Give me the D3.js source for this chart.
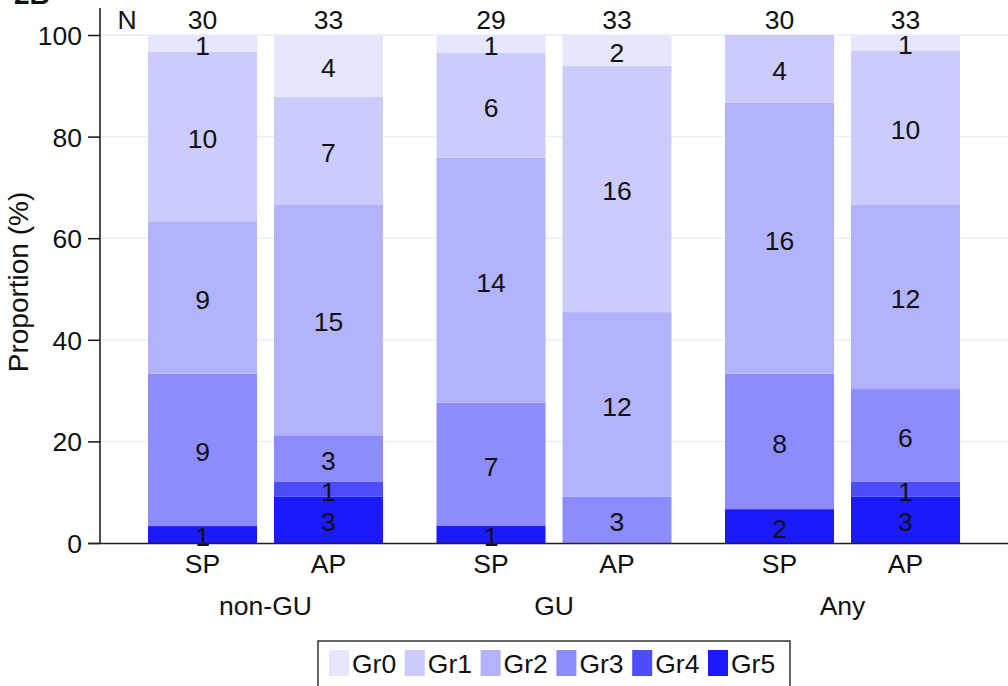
<!DOCTYPE html>
<html>
<head>
<meta charset="utf-8">
<script src="https://cdn.jsdelivr.net/npm/d3@7"></script>
<style>
  html, body { margin: 0; padding: 0; background: #fff; }
  svg { display: block; }
  text { font-family: "Liberation Sans", Arial, Helvetica, sans-serif; fill: #111; }
</style>
</head>
<body>
<svg id="chart" width="1008" height="686"></svg>
<script>
// ---- data ----
const groups = ["non-GU", "GU", "Any"];
const types = ["SP", "AP"];
const grades = ["Gr0", "Gr1", "Gr2", "Gr3", "Gr4", "Gr5"];
const colors = ["#e6e6fc", "#ccccfc", "#b3b3fc", "#8c8cfc", "#4d4dfb", "#1a1afb"];
// counts per bar, order Gr0..Gr5
const nonGU_SP = [1, 10, 9, 9, 0, 1];
const nonGU_AP = [4, 7, 15, 3, 1, 3];
const GU_SP    = [1, 6, 14, 7, 0, 1];
const GU_AP    = [2, 16, 12, 3, 0, 0];
const Any_SP   = [0, 4, 16, 8, 0, 2];
const Any_AP   = [1, 10, 12, 6, 1, 3];
const yTicks = [0, 20, 40, 60, 80, 100];

const barCounts = [nonGU_SP, nonGU_AP, GU_SP, GU_AP, Any_SP, Any_AP];
const bars = [];
groups.forEach((g, gi) => types.forEach((t, ti) => {
  const c = barCounts[gi * 2 + ti];
  const row = { group: g, type: t, N: d3.sum(c) };
  grades.forEach((gr, k) => row[gr] = c[k]);
  bars.push(row);
}));

const FS = 26.5;
const svg = d3.select("#chart");

const y = d3.scaleLinear().domain([0, 100]).range([543, 35]);
const xG = d3.scaleBand().domain(groups).range([121.25, 986.75]).paddingInner(0).paddingOuter(0);
const xT = d3.scaleBand().domain(types).range([0, xG.bandwidth()]).paddingInner(17 / 126).paddingOuter(0.2124);
const color = d3.scaleOrdinal().domain(grades).range(colors);

// gridlines
svg.append("g").selectAll("line").data(yTicks.filter(d => d > 0)).join("line")
  .attr("x1", 100).attr("x2", 1008)
  .attr("y1", d => y(d)).attr("y2", d => y(d))
  .attr("stroke", "#e8eff2").attr("stroke-width", 1.5);

// stacked (bottom Gr5 .. top Gr0)
const keys = grades.slice().reverse();
const series = d3.stack().keys(keys).offset(d3.stackOffsetExpand)(bars);

const barX = d => xG(d.group) + xT(d.type);

const gBars = svg.append("g");
series.forEach(s => {
  gBars.append("g").attr("fill", color(s.key))
    .selectAll("rect").data(s).join("rect")
    .attr("x", d => barX(d.data))
    .attr("width", xT.bandwidth())
    .attr("y", d => y(d[1] * 100))
    .attr("height", d => y(d[0] * 100) - y(d[1] * 100));
});

// segment labels
const gLab = svg.append("g");
series.forEach(s => {
  gLab.selectAll(null).data(s.filter(d => d.data[s.key] > 0)).join("text")
    .attr("x", d => barX(d.data) + xT.bandwidth() / 2)
    .attr("y", d => y((d[0] + d[1]) / 2 * 100) + 11.5)
    .attr("text-anchor", "middle")
    .attr("font-size", FS)
    .text(d => d.data[s.key]);
});

// N labels
svg.append("text").attr("x", 127).attr("y", 29).attr("text-anchor", "middle").attr("font-size", FS).text("N");
svg.append("g").selectAll("text").data(bars).join("text")
  .attr("x", d => barX(d) + xT.bandwidth() / 2)
  .attr("y", 29).attr("text-anchor", "middle").attr("font-size", FS)
  .text(d => d.N);

// y axis
const yAxis = svg.append("g").attr("transform", "translate(100,0)")
  .call(d3.axisLeft(y).tickValues(yTicks).tickSize(12).tickPadding(6));
yAxis.select(".domain").remove();
yAxis.selectAll(".tick line").attr("stroke", "#111").attr("stroke-width", 1.5);
yAxis.selectAll(".tick text").attr("font-size", FS).attr("font-family", "Liberation Sans, Arial, sans-serif").attr("fill", "#111").attr("dy", "0.36em");
svg.append("line").attr("x1", 100).attr("x2", 100).attr("y1", 8).attr("y2", 543)
  .attr("stroke", "#111").attr("stroke-width", 1.5);

// x axis line
svg.append("line").attr("x1", 88).attr("x2", 1008).attr("y1", 543.5).attr("y2", 543.5)
  .attr("stroke", "#222").attr("stroke-width", 1.5);

// type labels
svg.append("g").selectAll("text").data(bars).join("text")
  .attr("x", d => barX(d) + xT.bandwidth() / 2)
  .attr("y", 573).attr("text-anchor", "middle").attr("font-size", FS)
  .text(d => d.type);
// group labels
svg.append("g").selectAll("text").data(groups).join("text")
  .attr("x", d => xG(d) + xG.bandwidth() / 2)
  .attr("y", 615).attr("text-anchor", "middle").attr("font-size", FS)
  .text(d => d);

// y title
svg.append("text").attr("transform", "translate(28,282) rotate(-90)")
  .attr("text-anchor", "middle").attr("font-size", 28).text("Proportion (%)");

// panel tag
svg.append("text").attr("x", 14).attr("y", 4).attr("font-size", 28).attr("font-weight", "bold").text("2B");

// legend
const leg = svg.append("g");
leg.append("rect").attr("x", 318).attr("y", 641).attr("width", 472).attr("height", 60)
  .attr("fill", "#fff").attr("stroke", "#333").attr("stroke-width", 1.5);
const items = leg.selectAll("g").data(grades).join("g")
  .attr("transform", (d, i) => `translate(${329 + i * 75.8},650)`);
items.append("rect").attr("width", 20).attr("height", 26).attr("fill", d => color(d));
items.append("text").attr("x", 23).attr("y", 22.5).attr("font-size", FS).text(d => d);
</script>
</body>
</html>
